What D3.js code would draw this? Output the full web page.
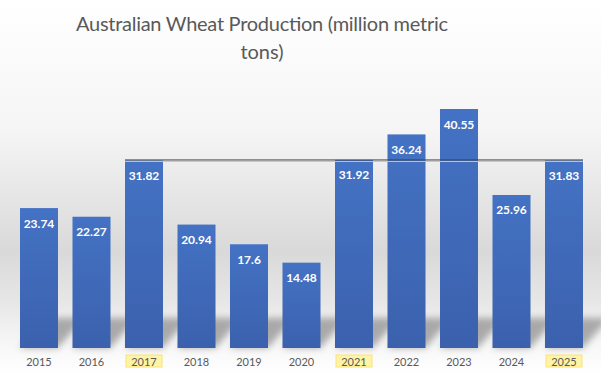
<!DOCTYPE html>
<html>
<head>
<meta charset="utf-8">
<script src="https://cdn.jsdelivr.net/npm/d3@7"></script>
<style>
  body { margin: 0; background: #fff; }
  svg { display: block; }
</style>
</head>
<body>
<script>
// chart values
const years = ['2015','2016','2017','2018','2019','2020','2021','2022','2023','2024','2025'];
const production = [23.74, 22.27, 31.82, 20.94, 17.6, 14.48, 31.92, 36.24, 40.55, 25.96, 31.83];
const highlighted = ['2017','2021','2025'];
const refValue = 31.82;   // flat line drawn from 2017 to 2025
const titleLines = ['Australian Wheat Production (million metric', 'tons)'];

const w = 601, h = 375;
const base = 348;

const svg = d3.select('body').append('svg').attr('width', w).attr('height', h);
const defs = svg.append('defs');

// background gradient
const bg = defs.append('linearGradient').attr('id','bg').attr('x1',0).attr('y1',0).attr('x2',0).attr('y2',1);
[['0%','#ffffff'],['35%','#f5f5f5'],['67%','#d9d9d9'],['80%','#e6e6e6'],['92%','#f7f7f7'],['100%','#ffffff']]
  .forEach(s => bg.append('stop').attr('offset',s[0]).attr('stop-color',s[1]));
svg.append('rect').attr('width',w).attr('height',h).attr('fill','url(#bg)');

const barGrad = defs.append('linearGradient').attr('id','barg').attr('x1',0).attr('y1',0).attr('x2',0).attr('y2',1);
barGrad.append('stop').attr('offset','0%').attr('stop-color','#4472c4');
barGrad.append('stop').attr('offset','100%').attr('stop-color','#3b61ad');

defs.append('filter').attr('id','blur').attr('x','-50%').attr('y','-50%').attr('width','200%').attr('height','200%')
  .append('feGaussianBlur').attr('stdDeviation',3.5);

const x = d3.scaleBand().domain(years).range([12.75, 590.25]).paddingInner(0.276).paddingOuter(0.138);
const y = d3.scaleLinear().domain([0, 40.55]).range([base, 109]);

// title
svg.append('text')
  .attr('x', 262).attr('y', 31)
  .attr('text-anchor','middle')
  .style('font-family','Lato, "Open Sans", sans-serif')
  .style('font-size','20px')
  .attr('fill','#595959')
  .selectAll('tspan').data(titleLines).enter().append('tspan')
  .attr('x', 262).attr('dy', (d,i) => i ? 28 : 0)
  .attr('textLength', (d,i) => i ? null : 372)
  .attr('lengthAdjust','spacing')
  .text(d => d);

// perspective shadows behind bars
svg.append('g').selectAll('path').data(years).enter().append('path')
  .attr('d', d => {
    const x0 = x(d), bw = x.bandwidth();
    return `M${x0},${base} L${x0+bw},${base} L${x0+bw+26},${base-30} L${x0+22},${base-30} Z`;
  })
  .attr('fill','#8a8a8a').attr('opacity',0.7).attr('filter','url(#blur)');

// bars
svg.append('g').selectAll('rect').data(production).enter().append('rect')
  .attr('x', (d,i) => x(years[i]))
  .attr('y', d => y(d))
  .attr('width', x.bandwidth())
  .attr('height', d => base - y(d))
  .attr('fill','url(#barg)');

// reference line
const lx1 = x('2017'), lx2 = x('2025') + x.bandwidth();
svg.append('line').attr('x1',lx1).attr('x2',lx2).attr('y1',y(refValue)+1).attr('y2',y(refValue)+1)
  .attr('stroke','#c4c4c4').attr('stroke-width',1);
svg.append('line').attr('x1',lx1).attr('x2',lx2).attr('y1',y(refValue)-0.5).attr('y2',y(refValue)-0.5)
  .attr('stroke','#404040').attr('stroke-width',1);

// value labels
svg.append('g').selectAll('text').data(production).enter().append('text')
  .attr('x', (d,i) => x(years[i]) + x.bandwidth()/2)
  .attr('y', d => y(d) + 19.5)
  .attr('text-anchor','middle')
  .style('font-family','Lato, "Open Sans", sans-serif')
  .style('font-size','12px').style('font-weight','bold')
  .attr('fill','#ffffff')
  .text(d => d);

// year labels
const xl = svg.append('g');
xl.selectAll('rect').data(highlighted).enter().append('rect')
  .attr('x', d => x(d) + x.bandwidth()/2 - 18)
  .attr('y', 355).attr('width', 36).attr('height', 12)
  .attr('fill','#fff3a6').attr('stroke','#fbe27a').attr('stroke-width',1);
xl.selectAll('text').data(years).enter().append('text')
  .attr('x', d => x(d) + x.bandwidth()/2)
  .attr('y', 365.5)
  .attr('text-anchor','middle')
  .style('font-family','Lato, "Open Sans", sans-serif')
  .style('font-size','11px')
  .attr('fill','#595959')
  .text(d => d);
</script>
</body>
</html>
